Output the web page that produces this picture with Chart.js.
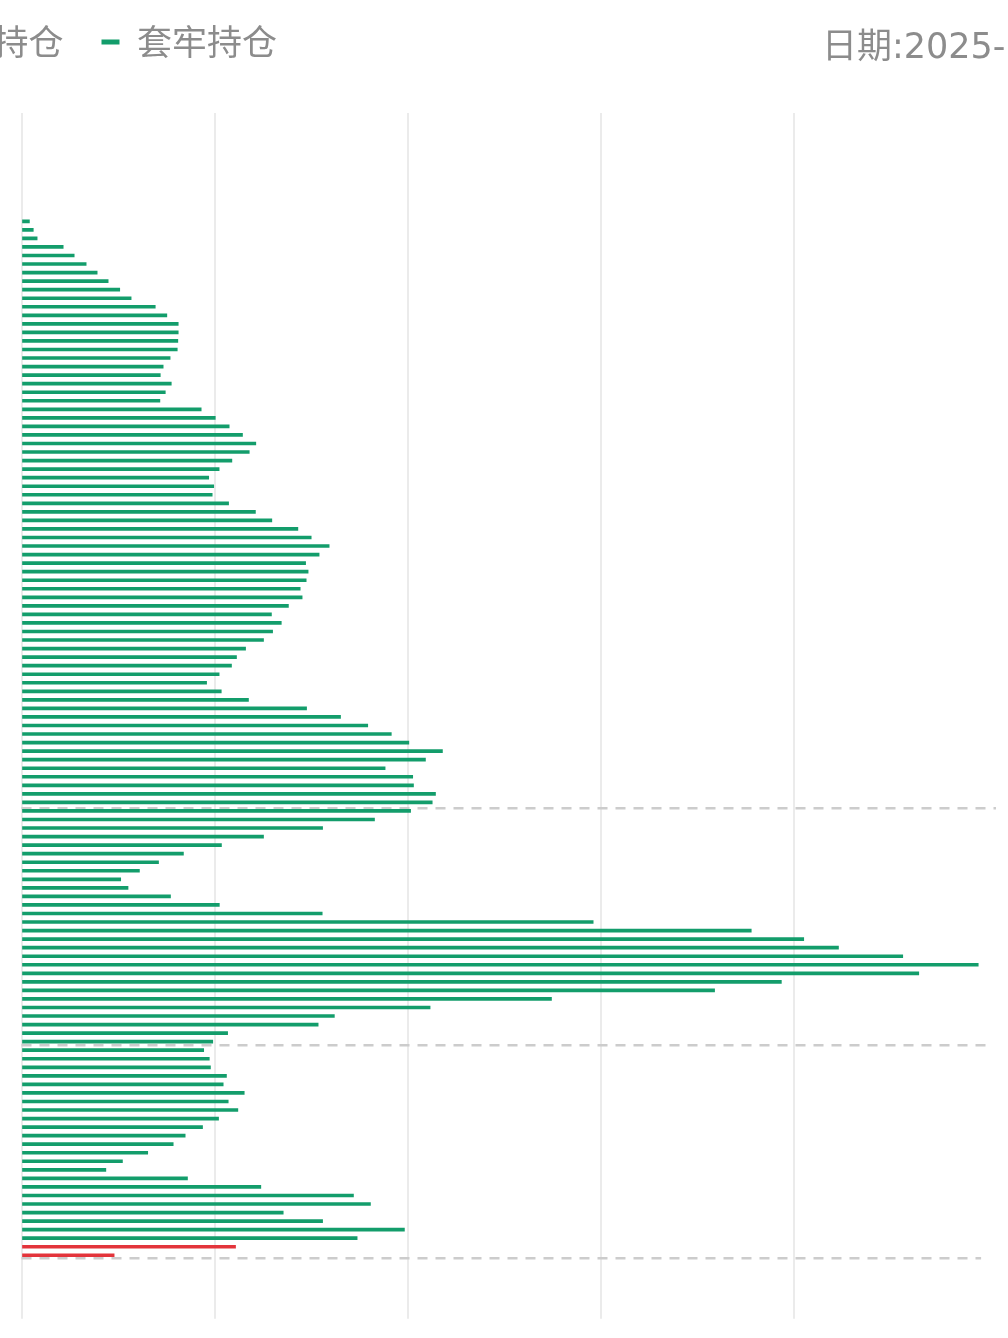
<!DOCTYPE html>
<html><head><meta charset="utf-8">
<script src="https://cdn.jsdelivr.net/npm/chart.js@4.4.1/dist/chart.umd.min.js"></script>
<style>
html,body{margin:0;padding:0;background:#fff;overflow:hidden;width:1008px;height:1338px;}
#wrap{position:absolute;left:-150px;top:0;width:1158px;height:1338px;}
</style></head><body>
<div id="wrap"><canvas id="c"></canvas></div>
<script>
// price levels (top = highest), index units
const levels = [0,1,2,3,4,5,6,7,8,9,10,11,12,13,14,15,16,17,18,19,20,21,22,23,24,25,26,27,28,29,30,31,32,33,34,35,36,37,38,39,40,41,42,43,44,45,46,47,48,49,50,51,52,53,54,55,56,57,58,59,60,61,62,63,64,65,66,67,68,69,70,71,72,73,74,75,76,77,78,79,80,81,82,83,84,85,86,87,88,89,90,91,92,93,94,95,96,97,98,99,100,101,102,103,104,105,106,107,108,109,110,111,112,113,114,115,116,117,118,119,120,121,122,123,124,125,126,127,128,129,130,131,132,133,134,135,136,137,138,139,140];

const seriesNames = ['获利持仓', '套牢持仓'];

const profitHolding = [
null,null,null,null,null,null,null,null,null,null,null,null,
null,null,null,null,null,null,null,null,null,null,null,null,
null,null,null,null,null,null,null,null,null,null,null,null,
null,null,null,null,null,null,null,null,null,null,null,null,
null,null,null,null,null,null,null,null,null,null,null,null,
null,null,null,null,null,null,null,null,null,null,null,null,
null,null,null,null,null,null,null,null,null,null,null,null,
null,null,null,null,null,null,null,null,null,null,null,null,
null,null,null,null,null,null,null,null,null,null,null,null,
null,null,null,null,null,null,null,null,null,null,null,null,
null,null,null,null,null,null,null,null,null,null,null,null,
110.9, 48.0,
null,null,null,null,null,null,null];

const trappedHolding = [
null,null,null,null,null,null,null,null,null,null,null,null,
4.1, 6.1, 8.1, 21.6, 27.3, 33.5, 39.2, 44.9, 50.9, 56.8,
69.3, 75.3, 81.2, 81.2, 81.0, 80.7, 77.0, 73.4, 71.9, 77.6,
74.5, 71.7, 93.1, 100.4, 107.6, 114.5, 121.4, 118.0, 109.0, 102.4,
97.0, 99.6, 98.8, 107.3, 121.2, 129.7, 143.2, 150.1, 159.4, 154.2,
147.2, 148.5, 147.5, 144.4, 145.4, 138.3, 129.5, 134.6, 130.1, 125.4,
116.1, 111.4, 108.8, 102.4, 95.9, 103.5, 117.6, 147.7, 165.3, 179.4,
191.6, 200.7, 218.1, 209.3, 188.4, 202.7, 203.1, 214.5, 212.8, 201.6,
182.9, 156.0, 125.4, 103.6, 83.9, 71.0, 61.1, 51.4, 55.2, 77.2,
102.5, 155.8, 296.2, 378.1, 405.3, 423.3, 456.6, 495.9, 464.9, 393.7,
359.1, 274.6, 211.7, 162.1, 153.7, 106.8, 99.1, 94.4, 97.3, 97.9,
106.2, 104.5, 115.4, 107.1, 112.1, 102.1, 93.8, 84.8, 78.6, 65.4,
52.3, 43.7, 86.0, 124.0, 172.0, 180.8, 135.6, 156.0, 198.4, 173.9,
null,null,null,null,null,null,null,null,null];

// vertical grid values on the value axis
const gridValues = [0, 100, 200, 300, 400];

// dashed reference lines: level (index units) and extent (value units)
const refLineLevels = [80.69, 108.42, 133.35];
const refLineEnds = [504.9, 501.3, 497.2];

const dateText = '日期:2025-';

const xMax = Math.max(...trappedHolding.filter(v => v !== null), ...profitHolding.filter(v => v !== null));

const GREEN = '#139d6b';
const RED = '#e3343b';
const TEXT = '#8c8c8c';
const FONT = "'Noto Sans CJK SC', 'Noto Sans', sans-serif";

const dateLabel = {
  id: 'dateLabel',
  afterDraw(chart) {
    const ctx = chart.ctx;
    ctx.save();
    ctx.font = "35px 'DejaVu Sans', 'Noto Sans CJK SC', sans-serif";
    ctx.fillStyle = TEXT;
    ctx.textBaseline = 'alphabetic';
    ctx.textAlign = 'left';
    ctx.fillText(dateText, 972, 57.5);
    ctx.restore();
  }
};

const datasets = [
  { label: seriesNames[0], data: profitHolding, backgroundColor: RED, borderWidth: 0,
    barThickness: 3, grouped: false, indexAxis: 'y' },
  { label: seriesNames[1], data: trappedHolding, backgroundColor: GREEN, borderWidth: 0,
    barThickness: 3, grouped: false, indexAxis: 'y' }
];
refLineLevels.forEach((lv, i) => {
  datasets.push({
    type: 'line', label: 'ref' + i, indexAxis: 'x',
    data: [{ x: 0, y: lv }, { x: refLineEnds[i], y: lv }],
    borderColor: '#cccccc', borderWidth: 2.5, borderDash: [10, 8],
    pointRadius: 0, fill: false, clip: false, tension: 0
  });
});

new Chart(document.getElementById('c'), {
  type: 'bar',
  data: { labels: levels, datasets },
  plugins: [dateLabel],
  options: {
    indexAxis: 'y',
    responsive: true,
    maintainAspectRatio: false,
    animation: false,
    layout: { padding: { top: -13.5, left: 0, right: 29.4, bottom: 19.3 } },
    plugins: {
      legend: {
        position: 'top', align: 'start',
        labels: {
          boxWidth: 18, boxHeight: 5, padding: 38, color: TEXT,
          font: { size: 35, family: FONT },
          filter: (item) => item.datasetIndex < 2
        }
      },
      tooltip: { enabled: false }
    },
    scales: {
      x: {
        type: 'linear', position: 'top', min: 0, max: xMax,
        border: { display: false },
        grid: { color: '#ebebeb', lineWidth: 2, drawTicks: false },
        ticks: { display: false },
        afterBuildTicks(s) { s.ticks = gridValues.map(v => ({ value: v })); },
        afterFit(s) { s.height = 43.5; }
      },
      y: {
        type: 'linear', reverse: true, min: -0.674, max: 140.42, offset: false,
        border: { display: false },
        grid: { display: false, drawTicks: false },
        ticks: { display: false },
        afterFit(s) { s.width = 171.5; }
      }
    }
  }
});
</script>
</body></html>
